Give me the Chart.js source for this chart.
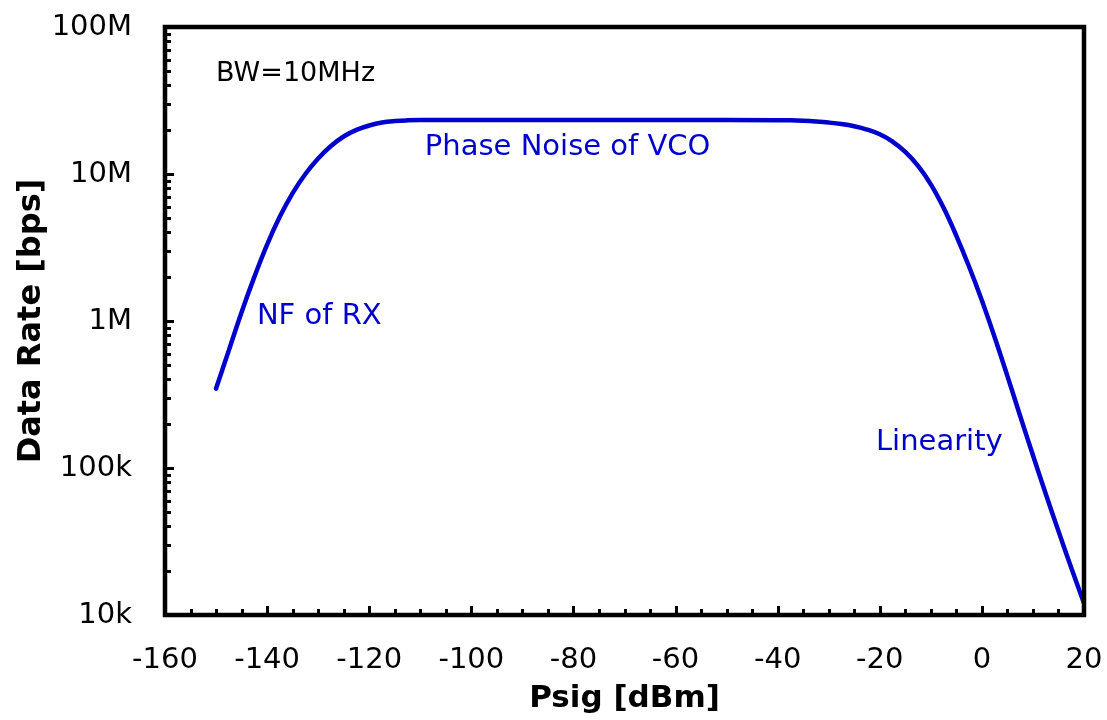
<!DOCTYPE html>
<html>
<head>
<meta charset="utf-8">
<script src="https://cdn.jsdelivr.net/npm/chart.js@4.4.1/dist/chart.umd.min.js"></script>
<style>
  html, body { margin: 0; padding: 0; background: #ffffff; }
  #wrap { width: 1107px; height: 720px; }
</style>
</head>
<body>
<div id="wrap"><canvas id="c" width="1107" height="720"></canvas></div>
<script>
// Signal power sweep [dBm]
const psig = [-150, -147.5, -145, -142.5, -140, -137.5, -135, -132.5, -130, -127.5,
              -125, -122.5, -120, -117.5, -115, -112.5, -110, -100, -80, -60,
              -40, -37.5, -35, -32.5, -30, -27.5, -25, -22.5, -20, -17.5,
              -15, -12.5, -10, -7.5, -5, -2.5, 0, 2.5, 5, 7.5,
              10, 12.5, 15, 17.5, 20];

// Achievable data rate [bps]
const dataRate = [3.47e5, 6.31e5, 1.148e6, 1.995e6, 3.31e6, 5.13e6, 7.41e6, 1.0e7, 1.274e7, 1.549e7,
                  1.799e7, 1.995e7, 2.138e7, 2.239e7, 2.291e7, 2.317e7, 2.328e7, 2.33e7, 2.33e7, 2.33e7,
                  2.323e7, 2.317e7, 2.301e7, 2.275e7, 2.239e7, 2.188e7, 2.113e7, 2.007e7, 1.862e7, 1.660e7,
                  1.413e7, 1.135e7, 8.51e6, 5.89e6, 3.80e6, 2.34e6, 1.38e6, 7.76e5, 4.22e5, 2.26e5,
                  1.22e5, 6.68e4, 3.72e4, 2.10e4, 1.20e4];

// Axis ticks
const yTickValues = [1e4, 1e5, 1e6, 1e7, 1e8];
const yTickLabels = ['10k', '100k', '1M', '10M', '100M'];
const xMin = -160, xMax = 20, xStep = 20, xMinorStep = 5;

// Text notes on the plot: [text, x (dBm), y (bps), colour, font size]
const notes = [
  ['BW=10MHz', -150, 4.3e7, '#000000', 27],
  ['Phase Noise of VCO', -109.1, 1.35e7, '#0000CC', 29],
  ['NF of RX', -142, 9.5e5, '#0000CC', 29],
  ['Linearity', -20.75, 1.33e5, '#0000CC', 29]
];

const FONT = '"DejaVu Sans", Verdana, sans-serif';
const LINE_BLUE = '#0000CC';

function noBoxPadding(s) {
  s.paddingTop = 0; s.paddingBottom = 0; s.paddingLeft = 0; s.paddingRight = 0;
}

const frameAndTicks = {
  id: 'frameAndTicks',
  afterDatasetsDraw(chart) {
    const { ctx, chartArea: a, scales: { x, y } } = chart;
    ctx.save();
    ctx.strokeStyle = '#000';
    ctx.lineCap = 'butt';

    // inward tick marks on the bottom axis
    ctx.lineWidth = 3;
    for (let v = xMin + xMinorStep; v < xMax; v += xMinorStep) {
      const px = Math.round(x.getPixelForValue(v)) + 0.5;
      const major = (v - xMin) % xStep === 0;
      ctx.beginPath();
      ctx.moveTo(px, a.bottom);
      ctx.lineTo(px, a.bottom - (major ? 9 : 6));
      ctx.stroke();
    }

    // inward tick marks on the left axis (decades and 2..9 sub-ticks)
    for (let d = 0; d < yTickValues.length; d++) {
      const base = yTickValues[d];
      for (let m = 1; m <= 9; m++) {
        const v = base * m;
        if (v > y.max) break;
        if (v === y.min || v === y.max) continue;
        const py = Math.round(y.getPixelForValue(v)) + 0.5;
        ctx.beginPath();
        ctx.moveTo(a.left, py);
        ctx.lineTo(a.left + (m === 1 ? 9 : 6), py);
        ctx.stroke();
      }
    }

    // plot frame
    ctx.lineWidth = 4.5;
    ctx.strokeRect(a.left, a.top, a.right - a.left, a.bottom - a.top);

    // notes
    ctx.textAlign = 'left';
    ctx.textBaseline = 'alphabetic';
    notes.forEach(([t, nx, ny, col, size]) => {
      ctx.fillStyle = col;
      ctx.font = size + 'px ' + FONT;
      ctx.fillText(t, x.getPixelForValue(nx), y.getPixelForValue(ny));
    });
    ctx.restore();
  }
};

new Chart(document.getElementById('c'), {
  type: 'line',
  data: {
    datasets: [{
      data: psig.map((p, i) => ({ x: p, y: dataRate[i] })),
      borderColor: LINE_BLUE,
      borderWidth: 4.5,
      pointRadius: 0,
      fill: false,
      tension: 0.4,
      borderCapStyle: 'round',
      borderJoinStyle: 'round'
    }]
  },
  options: {
    responsive: false,
    animation: false,
    devicePixelRatio: 1,
    layout: { autoPadding: false, padding: { left: 0, top: 27, right: 23, bottom: 0 } },
    plugins: { legend: { display: false }, tooltip: { enabled: false } },
    scales: {
      x: {
        type: 'linear',
        min: xMin, max: xMax,
        afterFit(s) { s.height = 105; noBoxPadding(s); },
        grid: { display: false, drawTicks: false },
        border: { display: false },
        ticks: {
          stepSize: xStep,
          padding: 28,
          color: '#000',
          font: { family: FONT, size: 29 },
          maxRotation: 0,
          autoSkip: false
        },
        title: {
          display: true,
          text: 'Psig [dBm]',
          color: '#000',
          font: { family: FONT, size: 31, weight: 'bold' },
          padding: { top: 0, bottom: 2 }
        }
      },
      y: {
        type: 'logarithmic',
        min: 1e4, max: 1e8,
        afterFit(s) { s.width = 165; noBoxPadding(s); },
        afterBuildTicks(s) { s.ticks = yTickValues.map(v => ({ value: v })); },
        grid: { display: false, drawTicks: false },
        border: { display: false },
        ticks: {
          padding: 33,
          color: '#000',
          font: { family: FONT, size: 29 },
          autoSkip: false,
          callback(v) {
            const i = yTickValues.indexOf(v);
            return i >= 0 ? yTickLabels[i] : '';
          }
        },
        title: {
          display: true,
          text: 'Data Rate [bps]',
          color: '#000',
          font: { family: FONT, size: 32, weight: 'bold' },
          padding: { top: 12, bottom: 0 }
        }
      }
    }
  },
  plugins: [frameAndTicks]
});
</script>
</body>
</html>
